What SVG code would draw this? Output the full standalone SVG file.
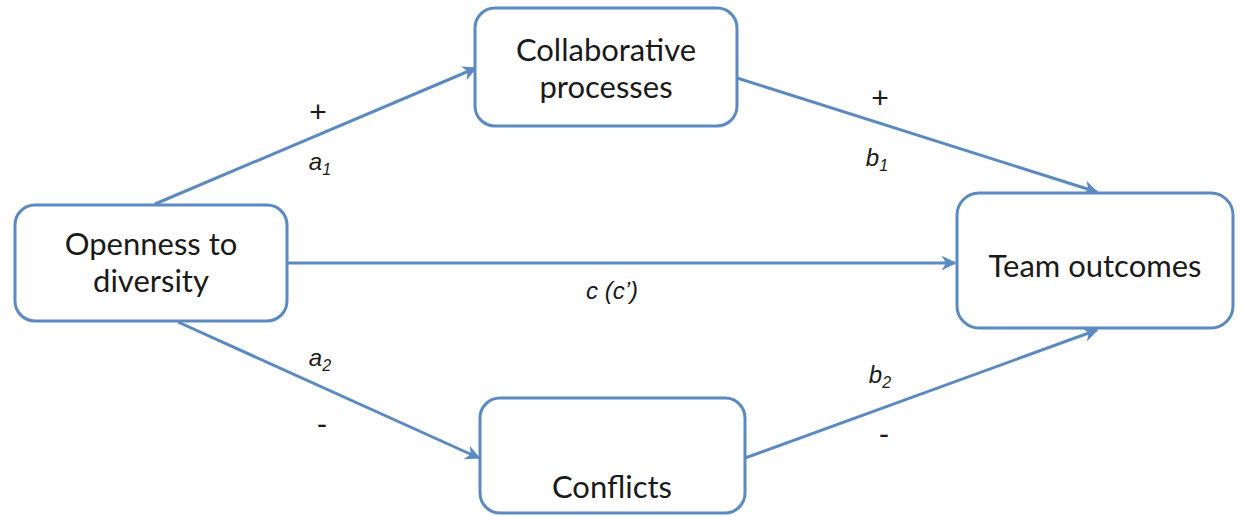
<svg xmlns="http://www.w3.org/2000/svg" width="1243" height="516" viewBox="0 0 1243 516">
<defs>
<style>
.box{fill:#fff;stroke:#5b8ac0;stroke-width:3}
.edge{fill:none;stroke:#5b8ac0;stroke-width:3;marker-end:url(#ah)}
.t{font-family:Lato,"Open Sans",sans-serif;font-size:31px;fill:#1a1a1a;text-anchor:middle}
.l{font-family:"Liberation Sans",Arial,sans-serif;font-size:24px;fill:#1a1a1a;text-anchor:middle}
.s{font-family:"Liberation Sans",Arial,sans-serif;font-size:30px;fill:#1a1a1a;text-anchor:middle}
.i{font-style:italic}
</style>
<marker id="ah" viewBox="0 0 10 10" refX="9" refY="5" markerWidth="5" markerHeight="5" orient="auto" markerUnits="strokeWidth">
<path d="M0,0 L10,5 L0,10 L3,5 Z" fill="#5b8ac0"/>
</marker>
</defs>
<rect width="1243" height="516" fill="#fff"/>
<g id="connectors">
<line class="edge" x1="155" y1="204" x2="476" y2="68"/>
<line class="edge" x1="737" y1="78" x2="1097" y2="192"/>
<line class="edge" x1="287" y1="263" x2="955" y2="263"/>
<line class="edge" x1="178" y1="322" x2="479" y2="458"/>
<line class="edge" x1="745" y1="458" x2="1097" y2="330"/>
</g>
<g id="labels">
<text class="s" x="318" y="122">+</text>
<text class="l i" x="320" y="170">a<tspan font-size="16" dy="5">1</tspan></text>
<text class="s" x="880" y="108">+</text>
<text class="l i" x="877" y="166">b<tspan font-size="16" dy="5">1</tspan></text>
<text class="l i" x="612" y="299">c (c’)</text>
<text class="l i" x="320" y="366">a<tspan font-size="16" dy="5">2</tspan></text>
<text class="s" x="322" y="434">-</text>
<text class="l i" x="880" y="383">b<tspan font-size="16" dy="5">2</tspan></text>
<text class="s" x="884" y="444">-</text>
</g>
<g id="openness">
<rect class="box" x="15" y="205" width="272" height="116" rx="20"/>
<text class="t" x="151" y="255">Openness to</text>
<text class="t" x="151" y="292">diversity</text>
</g>
<g id="collaborative">
<rect class="box" x="475" y="8" width="262" height="118" rx="20"/>
<text class="t" x="606" y="61">Collaborative</text>
<text class="t" x="606" y="98">processes</text>
</g>
<g id="team">
<rect class="box" x="957" y="193" width="276" height="135" rx="22"/>
<text class="t" x="1095" y="277">Team outcomes</text>
</g>
<g id="conflicts">
<rect class="box" x="480" y="398" width="265" height="115" rx="20"/>
<text class="t" x="612" y="498">Conflicts</text>
</g>
</svg>
